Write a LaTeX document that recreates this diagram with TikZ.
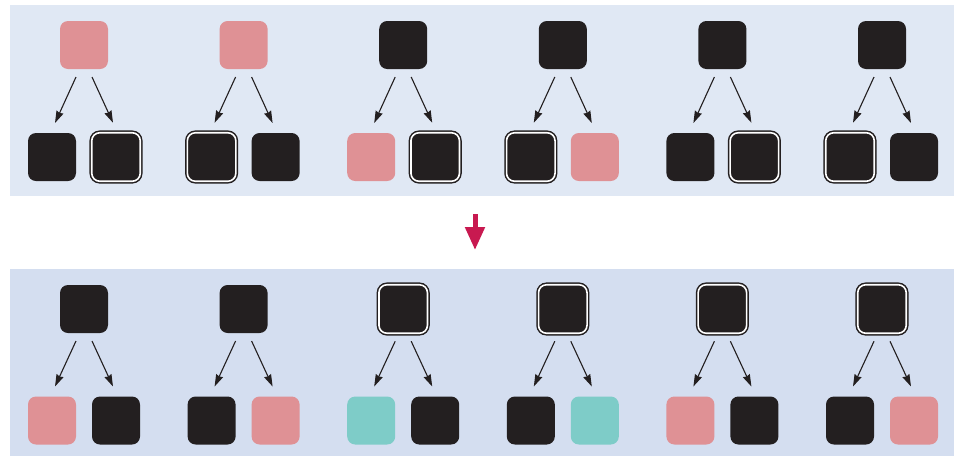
\documentclass[tikz,border=0pt]{standalone}
\usetikzlibrary{arrows.meta}
\definecolor{bgtop}{RGB}{224,232,244}
\definecolor{bgbot}{RGB}{212,222,240}
\definecolor{boxblack}{RGB}{35,31,32}
\definecolor{boxpink}{RGB}{223,145,149}
\definecolor{boxteal}{RGB}{126,204,200}
\definecolor{crimson}{RGB}{200,25,80}
\tikzset{
  base/.style={rectangle, inner sep=0pt, outer sep=0pt, minimum size=48pt, rounded corners=8pt},
  bk/.style={base, fill=boxblack},
  pk/.style={base, fill=boxpink},
  tl/.style={base, fill=boxteal},
  db/.style={base, minimum size=48.5pt, fill=boxblack, draw=boxblack, line width=1.5pt, double=white, double distance=1.6pt},
  arr/.style={draw=boxblack, line width=1.1pt, -{Stealth[length=12pt,width=7.5pt,inset=1pt]}},
  bigarr/.style={draw=crimson, line width=5pt, -{Triangle[length=23pt,width=19pt]}}
}
\begin{document}
\begin{tikzpicture}[x=1pt,y=-1pt]
\useasboundingbox (0,0) rectangle (954,456);
\fill[bgtop] (10,5) rectangle (954,196);
\fill[bgbot] (10,269) rectangle (954,456);
% top row
\node[pk] (tp1) at (84,45) {};
\node[bk] (tl1) at (52,157) {};
\node[db] (tr1) at (116,157) {};
\node[pk] (tp2) at (243.6,45) {};
\node[db] (tl2) at (211.6,157) {};
\node[bk] (tr2) at (275.6,157) {};
\node[bk] (tp3) at (403.2,45) {};
\node[pk] (tl3) at (371.2,157) {};
\node[db] (tr3) at (435.2,157) {};
\node[bk] (tp4) at (562.8,45) {};
\node[db] (tl4) at (530.8,157) {};
\node[pk] (tr4) at (594.8,157) {};
\node[bk] (tp5) at (722.4,45) {};
\node[bk] (tl5) at (690.4,157) {};
\node[db] (tr5) at (754.4,157) {};
\node[bk] (tp6) at (882,45) {};
\node[db] (tl6) at (850,157) {};
\node[bk] (tr6) at (914,157) {};
% bottom row
\node[bk] (bp1) at (84,309) {};
\node[pk] (bl1) at (52,420.5) {};
\node[bk] (br1) at (116,420.5) {};
\node[bk] (bp2) at (243.6,309) {};
\node[bk] (bl2) at (211.6,420.5) {};
\node[pk] (br2) at (275.6,420.5) {};
\node[db] (bp3) at (403.2,309) {};
\node[tl] (bl3) at (371.2,420.5) {};
\node[bk] (br3) at (435.2,420.5) {};
\node[db] (bp4) at (562.8,309) {};
\node[bk] (bl4) at (530.8,420.5) {};
\node[tl] (br4) at (594.8,420.5) {};
\node[db] (bp5) at (722.4,309) {};
\node[pk] (bl5) at (690.4,420.5) {};
\node[bk] (br5) at (754.4,420.5) {};
\node[db] (bp6) at (882,309) {};
\node[bk] (bl6) at (850,420.5) {};
\node[pk] (br6) at (914,420.5) {};
% connectors
\foreach \r in {t,b}{
  \foreach \i in {1,...,6}{
    \draw[arr] ([xshift=-8pt,yshift=-8pt]\r p\i.south) -- ([xshift=3pt,yshift=10pt]\r l\i.north);
    \draw[arr] ([xshift=8pt,yshift=-8pt]\r p\i.south) -- ([xshift=-3pt,yshift=10pt]\r r\i.north);
  }
}
% transition arrow
\coordinate (ta) at (475,214);
\coordinate (tb) at (475,250);
\draw[bigarr] (ta) -- (tb);
\end{tikzpicture}
\end{document}
